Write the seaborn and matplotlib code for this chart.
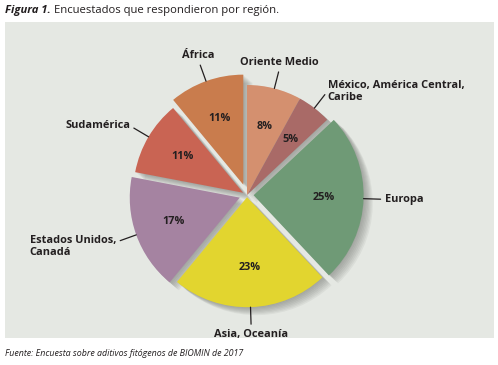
import matplotlib
matplotlib.use("Agg")
import numpy as np
import seaborn as sns
import matplotlib.pyplot as plt
from matplotlib.patches import Rectangle, Shadow

# datos (en sentido horario desde las 12)
regiones = ["Oriente Medio", "México, América Central,\nCaribe", "Europa",
            "Asia, Oceanía", "Estados Unidos,\nCanadá", "Sudamérica", "África"]
porcentajes = [8, 5, 25, 23, 17, 11, 11]
colores = ["#d4906f", "#a96a67", "#6f9a76", "#e2d52f", "#a583a1", "#c96453", "#c97c4d"]
separacion = [0.0, 0.0, 0.06, 0.02, 0.07, 0.04, 0.1]

sns.set_theme(style="white")
plt.rcParams["font.family"] = ["Open Sans", "DejaVu Sans"]
texto = "#231f20"

W, H = 498, 365
fig = plt.figure(figsize=(W / 100, H / 100), dpi=100)
fig.patch.set_facecolor("white")

# panel de fondo
fig.patches.append(Rectangle((5 / W, 1 - 338 / H), 489 / W, 316 / H,
                             transform=fig.transFigure, facecolor="#e5e8e3",
                             edgecolor="none", zorder=-5))

ax = fig.add_axes([82 / W, 5 / H, 330 / W, 330 / H])
ax.set_facecolor("none")
ax.set_zorder(2)

wedges, _, autotexts = ax.pie(
    porcentajes, colors=colores, explode=separacion, startangle=90,
    counterclock=False, autopct=lambda p: f"{p:.0f}%", pctdistance=0.64,
    wedgeprops=dict(edgecolor="none", linewidth=0),
    textprops=dict(fontsize=7.8, fontweight="bold", color=texto))
ax.set_xlim(-1.5, 1.5)
ax.set_ylim(-1.5, 1.5)
ax.axis("off")

# sombra difusa (varias capas)
for w in wedges:
    for k in range(8):
        ax.add_patch(Shadow(w, 0.004 + 0.008 * k, -0.003 - 0.007 * k,
                            facecolor="#6e716c", edgecolor="none",
                            alpha=0.09, zorder=0.5))

# etiquetas con lineas guia
for w, nombre in zip(wedges, regiones):
    ang = np.deg2rad((w.theta1 + w.theta2) / 2)
    d = np.array([np.cos(ang), np.sin(ang)])
    borde = np.array(w.center) + w.r * d
    fin = borde + 0.155 * d
    ax.plot([borde[0], fin[0]], [borde[1], fin[1]], color=texto, lw=0.9,
            clip_on=False)
    pos = fin + 0.04 * d
    ha = "left" if d[0] > 0.5 else ("right" if d[0] < -0.5 else "center")
    va = "bottom" if d[1] > 0.85 else ("top" if d[1] < -0.85 else "center")
    if "\n" in nombre and d[0] < 0:
        va = "top"
        pos[1] = fin[1] + 0.05
    ax.text(pos[0], pos[1], nombre, ha=ha, va=va, multialignment="left",
            fontsize=7.9, fontweight="bold", color=texto, clip_on=False,
            linespacing=1.1)

# titulo
t1 = fig.text(5 / W, 1 - 11 / H, "Figura 1.", fontsize=8.1, fontstyle="italic",
              fontweight="bold", color=texto, va="center")
fig.canvas.draw()
bb = t1.get_window_extent()
fig.text(bb.x1 / W + 3 / W, 1 - 11 / H, "Encuestados que respondieron por región.",
         fontsize=8.1, color=texto, va="center")

fig.text(5 / W, 1 - 354 / H,
         "Fuente: Encuesta sobre aditivos fitógenos de BIOMIN de 2017",
         fontsize=6.4, fontstyle="italic", color=texto, va="center")

fig.savefig("out.png", dpi=100)
